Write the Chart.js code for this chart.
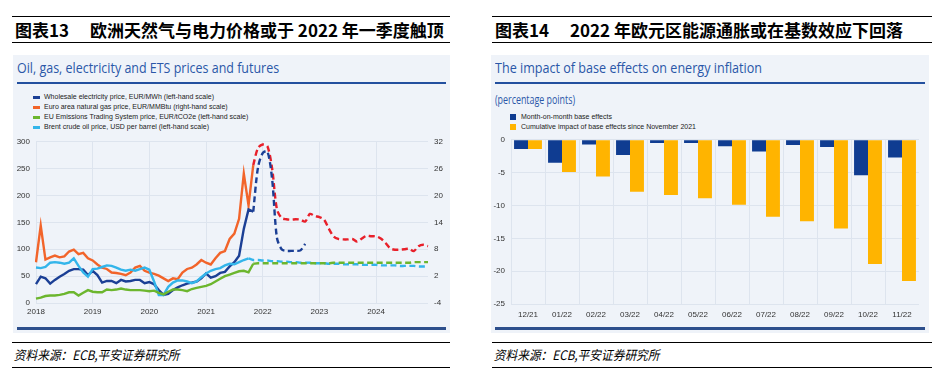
<!DOCTYPE html>
<html>
<head>
<meta charset="utf-8">
<script src="https://cdn.jsdelivr.net/npm/chart.js@4.4.0/dist/chart.umd.min.js"></script>
<style>
  body { margin: 0; width: 946px; height: 376px; background: #fff; position: relative; overflow: hidden; font-family: "Liberation Sans", Arial, sans-serif; }
  .hdr { position: absolute; top: 16px; height: 25px; border-top: 1.5px solid #000; border-bottom: 1.5px solid #000;
         font-family: "Noto Sans CJK SC", sans-serif; font-weight: bold; font-size: 17px; line-height: 25px; white-space: nowrap; color: #000; }
  .hdr .no { position: absolute; left: 3px; }
  .hdr .tx { position: absolute; }
  .panel { position: absolute; top: 55px; height: 278px; background: #eff3f9; }
  .ptitle { position: absolute; left: 4px; top: 2px; font-family: "Open Sans", sans-serif; font-size: 15px; color: #2a57a8; white-space: nowrap; transform-origin: left top; }
  .rule { position: absolute; left: 4px; right: 4px; top: 27px; height: 2px; background: #23509f; }
  .rule2 { position: absolute; left: 4px; right: 4px; top: 272px; height: 3px; background: #2d4f8c; }
  .leg { position: absolute; font-family: "Liberation Sans Narrow", "Liberation Sans", sans-serif; font-size: 7px; color: #222; white-space: nowrap; }
  .leg div { position: relative; height: 10px; line-height: 10px; padding-left: 11px; }
  .leg i { position: absolute; left: 0; top: 4px; width: 7px; height: 3px; }
  .leg.sq i { top: 2px; width: 6px; height: 6px; }
  .src { position: absolute; top: 342px; height: 24px; border-top: 1px solid #000; border-bottom: 1px solid #000;
         font-family: "Noto Sans CJK SC", sans-serif; font-style: italic; font-size: 13px; line-height: 24px; white-space: nowrap; color: #000; }
  .src span { display: inline-block; transform: scaleX(0.9); transform-origin: left; padding-left: 2px; }
  .box { position: absolute; }
</style>
</head>
<body>

<div class="hdr" style="left:12px;width:438px"><span class="no">图表13</span><span class="tx" style="left:78px">欧洲天然气与电力价格或于 2022 年一季度触顶</span></div>
<div class="hdr" style="left:492px;width:440px"><span class="no">图表14</span><span class="tx" style="left:78px">2022 年欧元区能源通胀或在基数效应下回落</span></div>

<div class="panel" style="left:13px;width:437px">
  <div class="ptitle" data-w="262">Oil, gas, electricity and ETS prices and futures</div>
  <div class="rule"></div>
  <div class="rule2"></div>
</div>
<div class="panel" style="left:491px;width:438px">
  <div class="ptitle" data-w="267">The impact of base effects on energy inflation</div>
  <div class="rule"></div>
  <div class="ptitle" data-w="80" style="top:36px;font-size:12px">(percentage points)</div>
  <div class="rule2"></div>
</div>

<div class="leg" style="left:33px;top:92px">
  <div><i style="background:#1b3f95"></i>Wholesale electricity price, EUR/MWh (left-hand scale)</div>
  <div><i style="background:#f2642a"></i>Euro area natural gas price, EUR/MMBtu (right-hand scale)</div>
  <div><i style="background:#6cb62e"></i>EU Emissions Trading System price, EUR/tCO2e (left-hand scale)</div>
  <div><i style="background:#33b5ea"></i>Brent crude oil price, USD per barrel (left-hand scale)</div>
</div>
<div class="leg sq" style="left:510px;top:112px">
  <div><i style="background:#0f3c91"></i>Month-on-month base effects</div>
  <div><i style="background:#ffb400"></i>Cumulative impact of base effects since November 2021</div>
</div>

<div class="box" style="left:13px;top:131px;width:437px;height:188px"><canvas id="lines"></canvas></div>
<div class="box" style="left:491px;top:129px;width:428px;height:194px"><canvas id="bars"></canvas></div>

<div class="src" style="left:12px;width:438px"><span>资料来源：ECB,平安证券研究所</span></div>
<div class="src" style="left:492px;width:440px"><span>资料来源：ECB,平安证券研究所</span></div>

<script>
// ---- chart 13: monthly data, Jan 2018 .. Dec 2024 ----
const years = ["2018", "2019", "2020", "2021", "2022", "2023", "2024"];
const months = [];
years.forEach(y => { for (let m = 1; m <= 12; m++) months.push(y + "-" + String(m).padStart(2, "0")); });

// wholesale electricity, EUR/MWh (left), Jan 2018 - Nov 2021
const elec = [35, 49, 46, 36, 43, 49, 54, 60, 63, 63, 62, 52,
              60, 52, 38, 41, 41, 37, 43, 40, 41, 43, 43, 37,
              39, 35, 24, 15, 17, 24, 29, 33, 36, 38, 40, 46,
              55, 47, 50, 56, 58, 68, 76, 88, 138, 174, 170];
// electricity futures, Nov 2021 - Oct 2022
const elecFut = [170, 252, 279, 282, 230, 122, 100, 97, 97, 97, 98, 110];

// natural gas, EUR/MMBtu (right), Jan 2018 - Nov 2021
const gas = [5.1, 13.3, 5.7, 6.2, 6.6, 6.2, 6.4, 7.5, 7.9, 6.9, 7.2, 6.0,
             5.5, 4.6, 3.9, 3.6, 2.8, 2.7, 2.5, 2.2, 2.8, 3.9, 4.3, 3.2,
             2.8, 2.5, 2.1, 1.5, 0.9, 1.5, 1.3, 2.8, 3.6, 3.9, 4.6, 5.6,
             5.0, 4.6, 6.0, 7.2, 7.6, 10.3, 11.5, 14.8, 24.9, 17.8, 26.8];
// gas futures, Nov 2021 - Dec 2024
const gasFut = [26.8, 30.6, 31.4, 31.0, 26.0, 17.0, 15.0, 14.7, 14.6, 14.7, 14.6, 14.2,
                15.9, 15.4, 15.2, 14.6, 12.6, 10.9, 10.3, 10.2, 10.2, 10.3, 9.7, 10.4,
                11.0, 10.9, 10.9, 10.4, 9.4, 8.2, 7.9, 7.9, 8.0, 8.1, 7.6, 8.7, 9.0, 8.7];

// EU ETS, EUR/tCO2e (left), Jan 2018 - Nov 2021
const ets = [8, 10, 13, 14, 14, 15, 17, 20, 20, 14, 19, 24,
             21, 20, 20, 25, 24, 25, 27, 25, 24, 24, 24, 23,
             22, 23, 19, 16, 21, 25, 25, 24, 22, 26, 28, 30,
             32, 35, 40, 45, 50, 53, 56, 59, 60, 57, 73];
// ETS futures, Nov 2021 - Dec 2024
const etsFut = [73, 74, 74, 74, 74, 74, 74, 74, 74, 74, 74, 74,
                74, 74, 74, 74, 74, 75, 75, 75, 75, 75, 75, 75,
                75, 75, 75, 75, 75, 75, 75, 75, 75, 75, 76, 76, 76, 76];

// Brent, USD per barrel (left), Jan 2018 - Oct 2021
const brent = [66, 65, 67, 75, 76, 75, 73, 75, 83, 69, 57, 49,
               63, 64, 67, 70, 69, 66, 62, 60, 62, 60, 63, 66,
               62, 40, 15, 15, 30, 38, 42, 42, 40, 37, 40, 48,
               55, 60, 63, 65, 70, 73, 72, 76, 80, 83];
// Brent futures, Oct 2021 - Dec 2024
const brentFut = [83, 80, 80, 79, 79, 78, 78, 77, 77, 76, 76, 75, 75,
                  75, 74, 74, 74, 73, 73, 73, 72, 72, 72, 72, 71,
                  71, 71, 71, 70, 70, 70, 70, 69, 69, 69, 69, 68, 68, 68];

// ---- chart 14 ----
const barLabels = ["12/21", "01/22", "02/22", "03/22", "04/22", "05/22", "06/22", "07/22", "08/22", "09/22", "10/22", "11/22"];
const momEffects = [-1.4, -3.5, -0.7, -2.3, -0.5, -0.5, -1.0, -1.8, -0.8, -1.1, -5.4, -2.7];
const cumEffects = [-1.4, -4.9, -5.6, -7.9, -8.4, -8.9, -9.9, -11.7, -12.4, -13.5, -18.9, -21.5];

// place a series at a month offset in the full month axis
function place(values, start) {
  const out = new Array(months.length).fill(null);
  values.forEach((v, i) => { out[start + i] = v; });
  return out;
}
const NOV21 = months.indexOf("2021-11");
const OCT21 = months.indexOf("2021-10");

const tickFont = { family: "'Liberation Sans Narrow', 'Liberation Sans', sans-serif", size: 8 };
const gridCol = "#dde4ee";

function line(label, data, color, axis, dashed) {
  return {
    label, data, borderColor: color, backgroundColor: color, yAxisID: axis,
    borderWidth: 2.4, pointRadius: 0, borderDash: dashed ? [6, 3.5] : [],
    tension: dashed ? 0.3 : 0, spanGaps: false
  };
}

new Chart(document.getElementById("lines"), {
  type: "line",
  data: {
    labels: months,
    datasets: [
      line("ets", place(ets, 0), "#6cb62e", "y"),
      line("etsFut", place(etsFut, NOV21), "#6cb62e", "y", true),
      line("brent", place(brent, 0), "#33b5ea", "y"),
      line("brentFut", place(brentFut, OCT21), "#33b5ea", "y", true),
      line("elec", place(elec, 0), "#1b3f95", "y"),
      line("elecFut", place(elecFut, NOV21), "#1b3f95", "y", true),
      line("gas", place(gas, 0), "#f2642a", "y2"),
      line("gasFut", place(gasFut, NOV21), "#e8202a", "y2", true)
    ]
  },
  options: {
    responsive: true, maintainAspectRatio: false, animation: false,
    layout: { padding: { top: 3 } },
    plugins: { legend: { display: false }, tooltip: { enabled: false } },
    scales: {
      x: {
        type: "category", offset: false,
        grid: { color: gridCol, drawTicks: false },
        border: { display: false },
        ticks: {
          autoSkip: false, maxRotation: 0, padding: 4, font: tickFont, color: "#333",
          callback: function (v, i) { const l = months[i]; return l.endsWith("-01") ? l.slice(0, 4) : null; }
        },
        afterFit: s => { s.height = 16; }
      },
      y: {
        position: "left", min: 0, max: 300,
        grid: { color: gridCol, drawTicks: false },
        border: { display: false },
        ticks: { stepSize: 50, padding: 6, font: tickFont, color: "#333" },
        afterFit: s => { s.width = 23; }
      },
      y2: {
        position: "right", min: -4, max: 32,
        grid: { drawOnChartArea: false, drawTicks: false },
        border: { display: false },
        ticks: { stepSize: 6, padding: 6, font: tickFont, color: "#333" },
        afterFit: s => { s.width = 22; }
      }
    }
  }
});

new Chart(document.getElementById("bars"), {
  type: "bar",
  data: {
    labels: barLabels,
    datasets: [
      { label: "Month-on-month base effects", data: momEffects, backgroundColor: "#0f3c91",
        categoryPercentage: 0.82, barPercentage: 1.0 },
      { label: "Cumulative impact of base effects since November 2021", data: cumEffects, backgroundColor: "#ffb400",
        categoryPercentage: 0.82, barPercentage: 1.0 }
    ]
  },
  options: {
    responsive: true, maintainAspectRatio: false, animation: false,
    layout: { padding: { top: 3 } },
    plugins: { legend: { display: false }, tooltip: { enabled: false } },
    scales: {
      x: {
        grid: { color: gridCol, drawTicks: false, offset: true },
        border: { display: false },
        ticks: { padding: 6, font: tickFont, color: "#333" },
        afterFit: s => { s.height = 19; }
      },
      y: {
        min: -25, max: 0,
        grid: { color: gridCol, drawTicks: false },
        border: { display: false },
        ticks: { stepSize: 5, padding: 6, font: tickFont, color: "#333" },
        afterFit: s => { s.width = 20; }
      }
    }
  }
});

// squeeze panel titles to the condensed width of the original typeface
document.querySelectorAll("[data-w]").forEach(el => {
  const w = el.getBoundingClientRect().width;
  el.style.transform = "scaleX(" + (parseFloat(el.dataset.w) / w).toFixed(3) + ")";
});
</script>
</body>
</html>
